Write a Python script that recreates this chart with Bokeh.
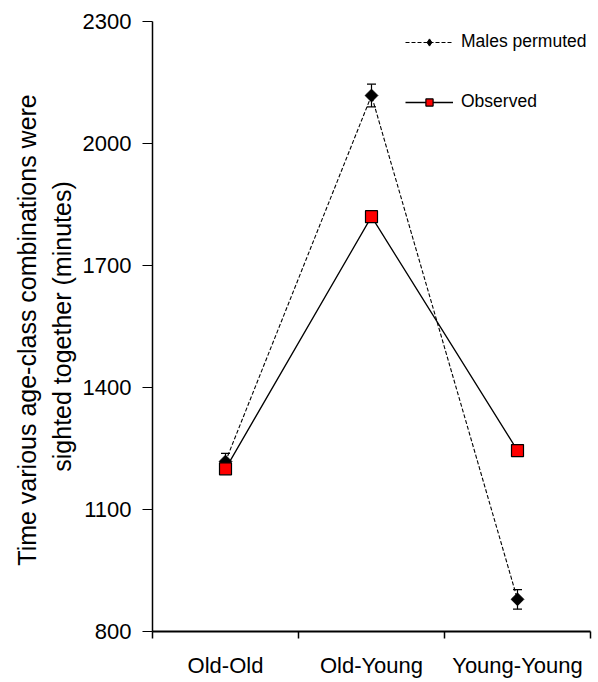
import math
from bokeh.plotting import figure
from bokeh.models import (Range1d, FixedTicker, Whisker, TeeHead, ColumnDataSource,
                          Legend, LegendItem, Title)
from bokeh.embed import file_html
from bokeh.resources import INLINE

categories = ["Old-Old", "Old-Young", "Young-Young"]
cat_pos = [0.5, 1.5, 2.5]
observed = [1200, 1820, 1245]
males_permuted = [1218, 2118, 879]
males_err = [20, 28, 24]
y_ticks = [800, 1100, 1400, 1700, 2000, 2300]
y_title = ["Time various age-class combinations  were", "sighted together (minutes)"]

FONT = "Liberation Sans"

p = figure(width=592, height=680, output_backend="svg", toolbar_location=None,
           x_range=Range1d(0, 3), y_range=Range1d(800, 2300),
           min_border_left=152, min_border_right=2, min_border_top=21,
           min_border_bottom=48)
p.outline_line_color = None
p.grid.visible = False

# axes
p.xaxis.ticker = FixedTicker(ticks=cat_pos, minor_ticks=[0, 1, 2, 3])
p.xaxis.major_label_overrides = {cp: c for cp, c in zip(cat_pos, categories)}
p.xaxis.major_tick_line_color = None
p.xaxis.minor_tick_out = 7
p.xaxis.minor_tick_in = 0
p.xaxis.minor_tick_line_width = 1.5
p.xaxis.axis_line_width = 2
p.xaxis.major_label_text_font = FONT
p.xaxis.major_label_text_font_size = "22px"
p.xaxis.major_label_text_color = "black"
p.xaxis.major_label_standoff = 14

p.yaxis.ticker = FixedTicker(ticks=y_ticks)
p.yaxis.minor_tick_line_color = None
p.yaxis.major_tick_out = 10
p.yaxis.major_tick_in = 0
p.yaxis.major_tick_line_width = 1.2
p.yaxis.axis_line_width = 1.5
p.yaxis.major_label_text_font = FONT
p.yaxis.major_label_text_font_size = "22px"
p.yaxis.major_label_text_color = "black"
p.yaxis.major_label_standoff = 11

# y-axis title as two rotated lines
for txt, so in [(y_title[1], 7), (y_title[0], 3)]:
    p.add_layout(Title(text=txt, align="center", standoff=so,
                       text_font=FONT, text_font_style="normal",
                       text_font_size="25px", text_color="black"), "left")

src = ColumnDataSource(dict(x=cat_pos, obs=observed, mp=males_permuted,
                            lo=[m - e for m, e in zip(males_permuted, males_err)],
                            hi=[m + e for m, e in zip(males_permuted, males_err)]))

# males permuted
mp_line = p.line("x", "mp", source=src, line_color="black", line_width=1.1, line_dash="4 2")
p.add_layout(Whisker(source=src, base="x", upper="hi", lower="lo",
                     line_color="black", line_width=1.2,
                     upper_head=TeeHead(size=9, line_color="black", line_width=1.2),
                     lower_head=TeeHead(size=9, line_color="black", line_width=1.2)))
# narrow diamond (used for the legend glyph), covered by the wider rotated square
mp_leg = p.scatter("x", "mp", source=src, marker="diamond", size=11,
                   fill_color="black", line_color="black")
p.scatter("x", "mp", source=src, marker="square", size=9, angle=math.pi / 4,
          fill_color="black", line_color="black")

# observed
obs_line = p.line("x", "obs", source=src, line_color="black", line_width=1.3)
obs_mark = p.scatter("x", "obs", source=src, marker="square", size=12,
                     fill_color="#ff0000", line_color="black", line_width=1.2)

legend = Legend(items=[LegendItem(label="Males permuted", renderers=[mp_line, mp_leg]),
                       LegendItem(label="Observed", renderers=[obs_line, obs_mark])],
                location=(253, 519), padding=0, margin=0, spacing=39,
                glyph_width=48, glyph_height=18, label_standoff=8,
                label_text_font=FONT, label_text_font_size="17.5px",
                label_text_color="black",
                border_line_color=None, background_fill_alpha=0)
p.add_layout(legend, "center")

open("out.html", "w").write(file_html(p, INLINE))
